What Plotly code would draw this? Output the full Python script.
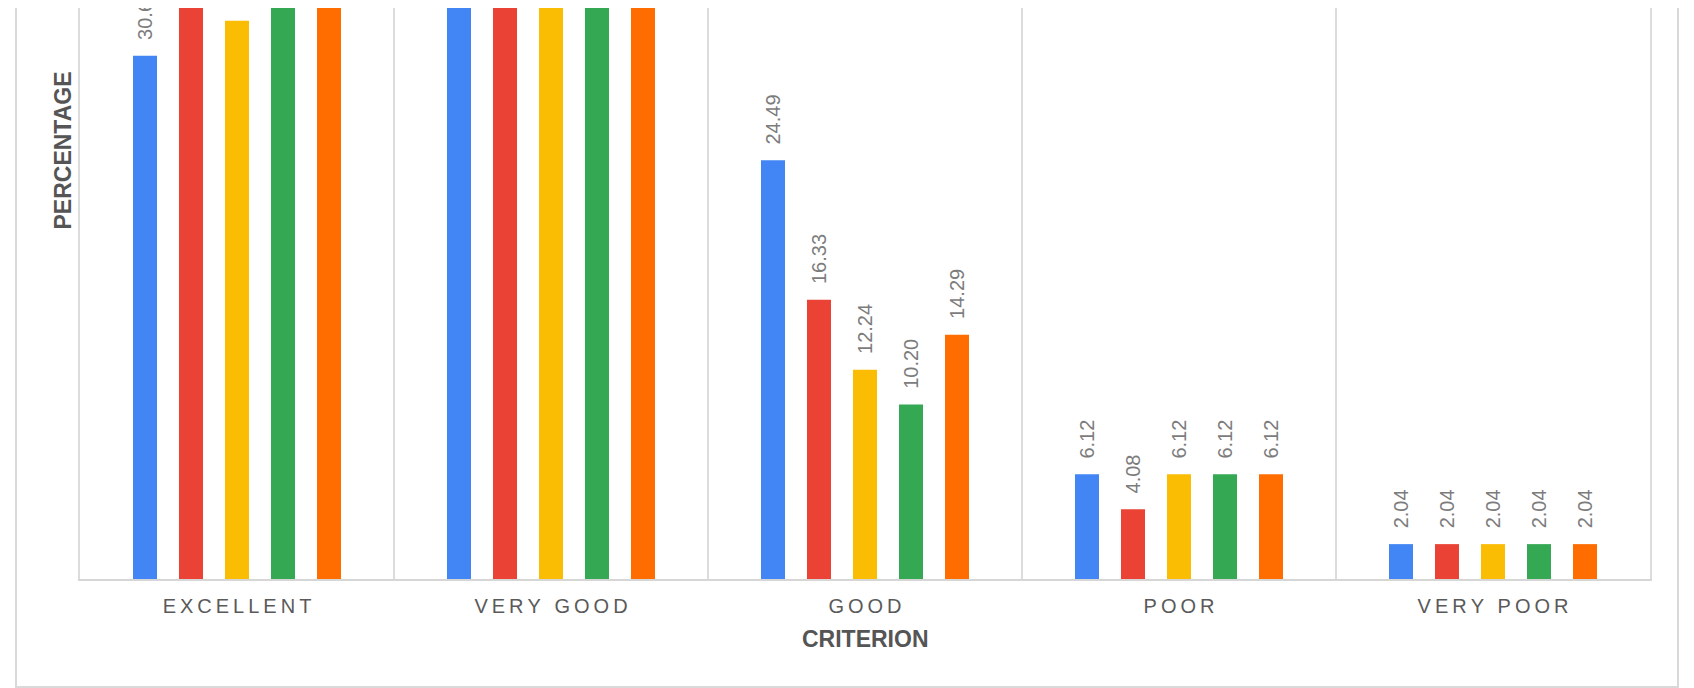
import plotly.graph_objects as go

categories = ["EXCELLENT", "VERY GOOD", "GOOD", "POOR", "VERY POOR"]
series_names = ["Series 1", "Series 2", "Series 3", "Series 4", "Series 5"]
blue_vals = [30.61, 36.73, 24.49, 6.12, 2.04]
red_vals = [38.78, 38.78, 16.33, 4.08, 2.04]
yellow_vals = [32.65, 46.94, 12.24, 6.12, 2.04]
green_vals = [40.82, 40.82, 10.20, 6.12, 2.04]
orange_vals = [36.73, 40.82, 14.29, 6.12, 2.04]
colors = ["#4285F4", "#EA4335", "#FBBC04", "#34A853", "#FF6D01"]
x_title = "CRITERION"
y_title = "PERCENTAGE"

all_vals = [blue_vals, red_vals, yellow_vals, green_vals, orange_vals]
FONT = "Liberation Sans, Arial, sans-serif"

# spaced-out tick labels (letter spacing)
tick_text = ["\u2009".join(list(c)) for c in categories]

fig = go.Figure()
for name, vals, col in zip(series_names, all_vals, colors):
    fig.add_trace(go.Bar(
        x=categories, y=vals, name=name, marker=dict(color=col, line=dict(width=0)),
        cliponaxis=True, showlegend=False, xaxis="x", yaxis="y",
    ))
# value labels (text-only copies, not clipped by the plot area)
for name, vals in zip(series_names, all_vals):
    fig.add_trace(go.Bar(
        x=categories, y=vals, name=name, marker=dict(color="rgba(0,0,0,0)", line=dict(width=0)),
        texttemplate="\u00a0\u00a0\u200a%{y:.2f}", textposition="outside", textangle=-90,
        constraintext="none", cliponaxis=False,
        textfont=dict(family=FONT, size=20, color="#7c7c7c"),
        hoverinfo="skip", showlegend=False, xaxis="x2", yaxis="y",
    ))

# page offset of the figure (browser body margin)
OFF = 8
W, H = 1694 - OFF, 688 - OFF
L, R, T, B = 80 - OFF, 44, 0, 109
pw, ph = W - L - R, H - T - B

def px_x(p):
    # p given in page pixels
    return (p - OFF - L) / pw

def px_y(p):
    return (H - B - (p - OFF)) / ph

fig.update_layout(
    width=W, height=H,
    margin=dict(l=L, r=R, t=T, b=B, pad=0),
    paper_bgcolor="white", plot_bgcolor="white",
    barmode="group", bargap=0.2675, bargroupgap=0.478,
    font=dict(family=FONT, color="#555555"),
    xaxis=dict(
        categoryorder="array", categoryarray=categories,
        tickvals=categories, ticktext=tick_text,
        tickson="boundaries", showgrid=True, gridcolor="#dcdcdc", gridwidth=1.5,
        showline=True, linecolor="#d6d6d6", linewidth=2,
        ticks="outside", ticklen=23, tickcolor="rgba(0,0,0,0)",
        ticklabelstandoff=8,
        tickfont=dict(family=FONT, size=20, color="#5a5a5a"),
        zeroline=False,
    ),
    xaxis2=dict(overlaying="x", matches="x", visible=False,
                categoryorder="array", categoryarray=categories),
    yaxis=dict(
        range=[0, 33.4], showgrid=False, zeroline=False,
        showticklabels=False, ticks="",
        showline=True, linecolor="#dcdcdc", linewidth=1.5, mirror=True,
    ),
    shapes=[
        dict(type="rect", xref="paper", yref="paper",
             x0=px_x(16), x1=px_x(1678), y0=px_y(687), y1=px_y(-40),
             line=dict(color="#d9d9d9", width=2), layer="below"),
    ],
    annotations=[
        dict(text="<b>%s</b>" % y_title, xref="paper", yref="paper",
             x=px_x(62.5), y=px_y(151), xanchor="center", yanchor="middle",
             textangle=-90, showarrow=False,
             font=dict(family=FONT, size=23, color="#555555")),
        dict(text="<b>%s</b>" % x_title, xref="paper", yref="paper",
             x=0.5, y=px_y(639), xanchor="center", yanchor="middle",
             showarrow=False,
             font=dict(family=FONT, size=23, color="#555555")),
    ],
)

fig.write_html("out.html")
